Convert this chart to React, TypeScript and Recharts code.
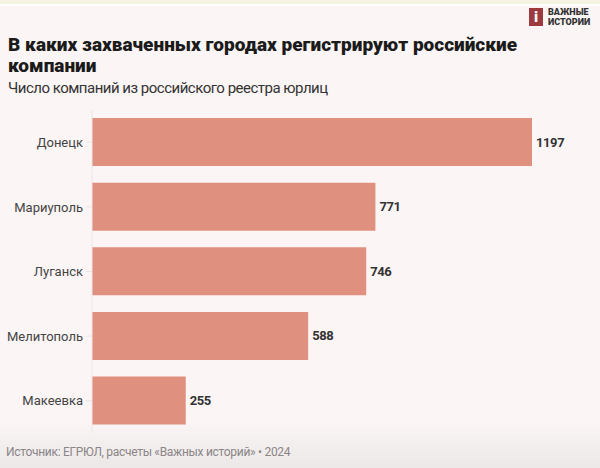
import { BarChart, Bar, XAxis, YAxis, LabelList } from "recharts";

const cities = ["Донецк", "Мариуполь", "Луганск", "Мелитополь", "Макеевка"];
const companies = [1197, 771, 746, 588, 255];

const data = cities.map((city, i) => ({ city, value: companies[i] }));

const FONT = "Roboto, 'Noto Sans', sans-serif";

export default function App() {
  return (
    <div
      style={{
        position: "absolute",
        top: 0,
        left: 0,
        width: 600,
        height: 468,
        overflow: "hidden",
        fontFamily: FONT,
        background:
          "linear-gradient(to bottom, #f7f3e3 0px, #f7f3e3 4px, #ffffff 4px, #ffffff 6px, #fbf5f5 6px, #fbf5f5 90%, #ece8e8 100%)",
      }}
    >
      {/* логотип */}
      <div style={{ position: "absolute", left: 529, top: 7, display: "flex", alignItems: "center" }}>
        <div
          style={{
            width: 14,
            height: 18,
            background: "#9b3b3e",
            color: "#fff",
            fontWeight: 900,
            fontSize: 15,
            lineHeight: "18px",
            textAlign: "center",
          }}
        >
          i
        </div>
        <div style={{ marginLeft: 5, fontSize: 9, fontWeight: 900, lineHeight: "10px", color: "#333" }}>
          ВАЖНЫЕ
          <br />
          ИСТОРИИ
        </div>
      </div>

      <div
        style={{
          position: "absolute",
          left: 8,
          top: 34,
          width: 540,
          fontSize: 19,
          fontWeight: 900,
          lineHeight: "21px",
          color: "#1b1b1b",
        }}
      >
        В каких захваченных городах регистрируют российские компании
      </div>
      <div style={{ position: "absolute", left: 8, top: 79, fontSize: 15, letterSpacing: -0.5, color: "#333" }}>
        Число компаний из российского реестра юрлиц
      </div>

      <div style={{ position: "absolute", left: 0, top: 0 }}>
        <BarChart
          width={600}
          height={468}
          data={data}
          layout="vertical"
          margin={{ top: 110, right: 68, bottom: 35, left: 0 }}
          barCategoryGap="12.5%"
        >
          <XAxis type="number" dataKey="value" domain={[0, 1197]} hide />
          <YAxis
            type="category"
            dataKey="city"
            width={92}
            axisLine={{ stroke: "#ebe5e5" }}
            tickLine={{ stroke: "#ebe5e5" }}
            tickSize={6}
            tickMargin={3}
            tick={{ fill: "#444", fontSize: 13, fontFamily: FONT }}
          />
          <Bar dataKey="value" fill="#e0907f" isAnimationActive={false}>
            <LabelList
              dataKey="value"
              position="right"
              offset={4}
              style={{ fill: "#333", fontSize: 13, fontWeight: 700, fontFamily: FONT, letterSpacing: -0.4 }}
            />
          </Bar>
        </BarChart>
      </div>

      <div style={{ position: "absolute", left: 6, top: 445, fontSize: 12, letterSpacing: -0.3, color: "#8a8686" }}>
        Источник: ЕГРЮЛ, расчеты «Важных историй» • 2024
      </div>
    </div>
  );
}
